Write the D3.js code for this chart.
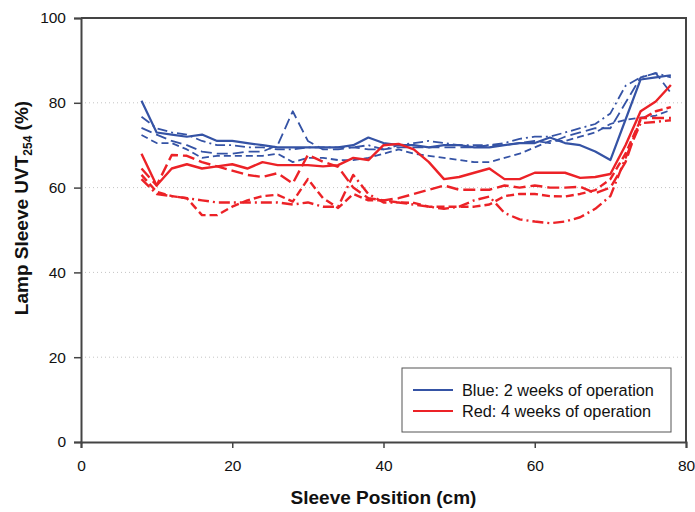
<!DOCTYPE html>
<html>
<head>
<meta charset="utf-8">
<script src="https://cdn.jsdelivr.net/npm/d3@7"></script>
<style>
  body { margin: 0; background: #fff; }
  text { font-family: "Liberation Sans", Arial, sans-serif; }
</style>
</head>
<body>
<div id="chart"></div>
<script>
// sleeve positions (cm), one reading every 2 cm
const positions = d3.range(8, 80, 2);

// 2 weeks of operation (blue)
const blueSolid   = [80.5, 73, 72.5, 72, 72.5, 71, 71, 70.5, 70, 69.5, 69.5, 69.5, 69.5, 69.5, 70, 71.8, 70.5, 70, 70, 69.5, 70, 70, 69.5, 69.5, 70, 70.5, 70.5, 71.8, 70.5, 70, 68.5, 66.5, 76, 85.5, 86, 86.5];
const blueDash    = [74.1, 72.5, 71, 70, 68.5, 68, 68, 68.5, 68.5, 70, 78, 71, 69, 69, 69.5, 69, 69, 69.5, 69.5, 69.5, 69.5, 69.5, 69.5, 70, 70, 70.5, 71, 70.5, 72, 73, 74, 74, 80, 86, 87, 82.3];
const blueDashDot = [76.7, 74, 73, 72.5, 71, 70, 70, 69.5, 69.5, 69, 69, 69.5, 69.5, 69.5, 69.5, 70, 69, 70, 70.5, 71, 70.5, 70, 70, 70, 70.5, 71.5, 72, 72, 73, 74, 75, 77.5, 84, 86, 87, 86];
const blueShort   = [72.4, 70.5, 70.5, 69, 67, 67.5, 67.5, 67.5, 67.5, 68, 66, 67, 67, 66.5, 66.5, 67, 68, 69, 68, 67.5, 67, 66.5, 66, 66, 67, 68, 69.5, 71, 71, 72, 73, 75, 76, 76.5, 77, 78.3];

// 4 weeks of operation (red)
const redSolid    = [68, 60.5, 64.5, 65.5, 64.5, 65, 65.5, 64.5, 66, 65.3, 65.3, 65.3, 65, 65.3, 67, 66.5, 70, 70.3, 69, 66, 62, 62.5, 63.5, 64.5, 62, 62, 63.5, 63.5, 63.5, 62.3, 62.5, 63.2, 70, 78, 80.3, 84.2];
const redDash     = [64.5, 60.5, 67.7, 67.5, 66, 65, 64, 63, 62.5, 63.4, 61, 67.7, 66.1, 64.9, 60, 57.5, 57, 57.5, 58.5, 59.5, 60.5, 59.5, 59.5, 59.5, 60.5, 60, 60.5, 60, 60, 60.2, 58.7, 60, 66, 76.4, 76.4, 76.4];
const redDashDot  = [62, 58.5, 58, 57.5, 57, 56.5, 56.5, 56.5, 56.5, 56.5, 56, 56.5, 55.5, 55.5, 63, 58.5, 56.5, 56.5, 56, 55.5, 55, 55.5, 57, 57.9, 54, 52.5, 52, 51.6, 52, 53, 55, 58, 67, 75.2, 75.5, 75.9];
const redShort    = [63, 59, 58, 57.5, 53.5, 53.5, 55.5, 57, 58, 58.3, 56.7, 62, 57.5, 55.2, 58.5, 57, 57, 56.5, 56.4, 55.5, 55.5, 55.5, 55.5, 56, 58, 58.5, 58.5, 58, 57.9, 58.5, 59.4, 62, 68, 76, 78, 79];

const xTicks = [0, 20, 40, 60, 80];
const yTicks = [0, 20, 40, 60, 80, 100];
const legendLabels = ["Blue: 2 weeks of operation", "Red: 4 weeks of operation"];

const BLUE = "#3553a5";
const RED = "#ec2227";

const series = [
  { values: blueSolid,   color: BLUE, width: 2.2, dash: null },
  { values: blueDash,    color: BLUE, width: 1.8, dash: "11,5" },
  { values: blueDashDot, color: BLUE, width: 1.8, dash: "10,4,2,4" },
  { values: blueShort,   color: BLUE, width: 1.8, dash: "7,4" },
  { values: redSolid,    color: RED,  width: 2.4, dash: null },
  { values: redDash,     color: RED,  width: 2.4, dash: "12,5" },
  { values: redDashDot,  color: RED,  width: 2.4, dash: "11,4,2,4" },
  { values: redShort,    color: RED,  width: 2.4, dash: "8,4" }
];

const width = 695, height = 512;
const margin = { top: 18, right: 9, bottom: 70, left: 81 };

const svg = d3.select("#chart").append("svg")
  .attr("width", width)
  .attr("height", height);

const x = d3.scaleLinear().domain([0, 80]).range([margin.left, width - margin.right]);
const y = d3.scaleLinear().domain([0, 100]).range([height - margin.bottom, margin.top]);

// dotted gridlines
svg.append("g")
  .selectAll("line")
  .data(yTicks.filter(d => d > 0 && d < 100))
  .join("line")
  .attr("x1", x(0)).attr("x2", x(80))
  .attr("y1", d => y(d)).attr("y2", d => y(d))
  .attr("stroke", "#c4c4c4")
  .attr("stroke-width", 1)
  .attr("stroke-dasharray", "1,3");

const line = d3.line()
  .x((d, i) => x(positions[i]))
  .y(d => y(d));

svg.append("g")
  .selectAll("path")
  .data(series)
  .join("path")
  .attr("d", d => line(d.values))
  .attr("fill", "none")
  .attr("stroke", d => d.color)
  .attr("stroke-width", d => d.width)
  .attr("stroke-dasharray", d => d.dash)
  .attr("stroke-linejoin", "round");

// axes
const xAxis = svg.append("g")
  .attr("transform", `translate(0,${y(0)})`)
  .call(d3.axisBottom(x).tickValues(xTicks).tickSize(6).tickPadding(12));
const yAxis = svg.append("g")
  .attr("transform", `translate(${x(0)},0)`)
  .call(d3.axisLeft(y).tickValues(yTicks).tickSize(7).tickPadding(8));

[xAxis, yAxis].forEach(g => {
  g.select(".domain").attr("stroke", "#444").attr("stroke-width", 2);
  g.selectAll(".tick line").attr("stroke", "#444").attr("stroke-width", 1.5);
  g.selectAll(".tick text").attr("font-size", 15.5).attr("fill", "#111")
    .style("font-family", "'Liberation Sans', Arial, sans-serif");
});

// top and right frame
svg.append("path")
  .attr("d", `M${x(0)},${y(100)}H${x(80)}V${y(0)}`)
  .attr("fill", "none")
  .attr("stroke", "#444")
  .attr("stroke-width", 2);

// axis titles
svg.append("text")
  .attr("x", (x(0) + x(80)) / 2)
  .attr("y", 504)
  .attr("text-anchor", "middle")
  .attr("font-size", 19)
  .attr("font-weight", "bold")
  .attr("fill", "#111")
  .text("Sleeve Position (cm)");

const yTitle = svg.append("text")
  .attr("transform", "translate(28,208) rotate(-90)")
  .attr("text-anchor", "middle")
  .attr("font-size", 19)
  .attr("font-weight", "bold")
  .attr("fill", "#111");
yTitle.append("tspan").text("Lamp Sleeve UVT");
yTitle.append("tspan").attr("font-size", 12).attr("dy", 4).text("254");
yTitle.append("tspan").attr("dy", -4).text(" (%)");

// legend
const legend = svg.append("g").attr("transform", "translate(402,368)");
legend.append("rect")
  .attr("width", 269).attr("height", 64)
  .attr("fill", "#fff")
  .attr("stroke", "#555")
  .attr("stroke-width", 1);
legend.selectAll("g.item")
  .data(legendLabels)
  .join("g")
  .attr("class", "item")
  .attr("transform", (d, i) => `translate(0,${22 + i * 21})`)
  .each(function (d, i) {
    const g = d3.select(this);
    g.append("line")
      .attr("x1", 11).attr("x2", 51)
      .attr("stroke", i === 0 ? BLUE : RED)
      .attr("stroke-width", 2);
    g.append("text")
      .attr("x", 60).attr("dy", "0.35em")
      .attr("font-size", 16.3).attr("fill", "#111")
      .text(d);
  });
</script>
</body>
</html>
